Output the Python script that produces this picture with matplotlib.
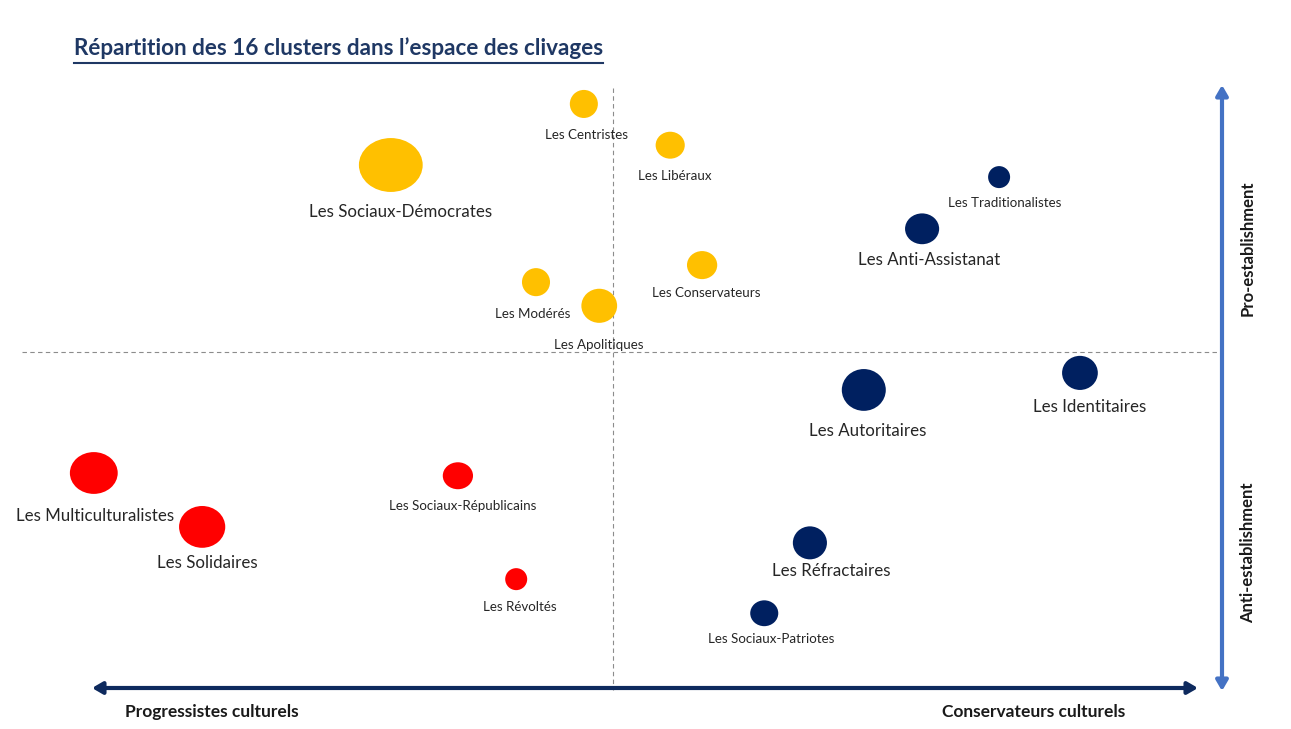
import matplotlib.pyplot as plt
from matplotlib.patches import Ellipse

# clusters: position in the cleavage space (x: culturel, y: establishment)
clusters = [
    "Les Centristes", "Les Libéraux", "Les Sociaux-Démocrates", "Les Traditionalistes",
    "Les Anti-Assistanat", "Les Conservateurs", "Les Modérés", "Les Apolitiques",
    "Les Identitaires", "Les Autoritaires", "Les Multiculturalistes", "Les Solidaires",
    "Les Sociaux-Républicains", "Les Révoltés", "Les Réfractaires", "Les Sociaux-Patriotes",
]
x_culturel = [-0.53, 1.04, -4.04, 7.02, 5.62, 1.62, -1.40, -0.25,
              8.49, 4.56, -9.44, -7.47, -2.82, -1.76, 3.58, 2.75]
y_establishment = [4.51, 3.76, 3.40, 3.18, 2.24, 1.58, 1.27, 0.84,
                   -0.38, -0.69, -2.20, -3.18, -2.25, -4.13, -3.47, -4.75]
# bubble width / height (data units)
largeur = [0.51, 0.53, 1.16, 0.40, 0.62, 0.55, 0.51, 0.65,
           0.65, 0.80, 0.87, 0.84, 0.55, 0.40, 0.62, 0.51]
hauteur = [0.51, 0.49, 0.98, 0.40, 0.56, 0.51, 0.51, 0.62,
           0.62, 0.76, 0.76, 0.76, 0.49, 0.40, 0.60, 0.47]
famille = ["centre", "centre", "centre", "droite", "droite", "centre", "centre", "centre",
           "droite", "droite", "gauche", "gauche", "gauche", "gauche", "droite", "droite"]

couleurs = {"centre": "#FFC000", "droite": "#002060", "gauche": "#FF0000"}
grands = {"Les Sociaux-Démocrates", "Les Anti-Assistanat", "Les Identitaires", "Les Autoritaires",
          "Les Multiculturalistes", "Les Solidaires", "Les Réfractaires"}
# label offsets in pixels (dx, dy downwards)
decalages = [(3, 31), (5, 31), (10, 47), (6, 26), (7, 31), (4, 28), (-3, 32), (0, 39),
             (10, 34), (4, 41), (1, 43), (5, 36), (5, 30), (4, 28), (21, 28), (7, 26)]

W, H = 1291, 729
plt.rcParams["font.family"] = ["Lato", "DejaVu Sans"]
fig = plt.figure(figsize=(W / 100, H / 100), dpi=100)
ax = fig.add_axes([0, 0, 1, 1])
scale = 55.0
x0, y0 = 613, 352
ax.set_xlim(-x0 / scale, (W - x0) / scale)
ax.set_ylim((y0 - H) / scale, y0 / scale)
ax.set_aspect("auto")
ax.axis("off")


def fx(px):
    return px / W


def fy(py):
    return 1 - py / H


# quadrant dashed lines
ax.plot([fx(613), fx(613)], [fy(88), fy(690)], transform=fig.transFigure,
        color="#8C8C8C", lw=0.8, ls=(0, (4, 3)))
ax.plot([fx(22), fx(1222)], [fy(352), fy(352)], transform=fig.transFigure,
        color="#8C8C8C", lw=0.8, ls=(0, (4, 3)))

for i, name in enumerate(clusters):
    ax.add_patch(Ellipse((x_culturel[i], y_establishment[i]), largeur[i], hauteur[i],
                         facecolor=couleurs[famille[i]], edgecolor="none", zorder=3))
    dx, dy = decalages[i]
    ax.annotate(name, (x_culturel[i], y_establishment[i]), xytext=(dx * 0.72, -dy * 0.72),
                textcoords="offset points", ha="center", va="center",
                fontsize=12.2 if name in grands else 9.6, color="#262626", zorder=4)

# axes arrows
ax.annotate("", xy=(fx(92), fy(688)), xytext=(fx(1198), fy(688)), xycoords="figure fraction",
            textcoords="figure fraction",
            arrowprops=dict(arrowstyle="<|-|>,head_length=0.6,head_width=0.35",
                            color="#0E2A5E", lw=3, shrinkA=0, shrinkB=0))
ax.annotate("", xy=(fx(1222), fy(85)), xytext=(fx(1222), fy(691)), xycoords="figure fraction",
            textcoords="figure fraction",
            arrowprops=dict(arrowstyle="<|-|>,head_length=0.6,head_width=0.35",
                            color="#4472C4", lw=3, shrinkA=0, shrinkB=0))

fig.text(fx(125), fy(712), "Progressistes culturels", fontsize=12.5, fontweight="bold",
         ha="left", va="center", color="#1A1A1A")
fig.text(fx(1125), fy(712), "Conservateurs culturels", fontsize=12.5, fontweight="bold",
         ha="right", va="center", color="#1A1A1A")
fig.text(fx(1248), fy(248), "Pro-establishment", fontsize=12, fontweight="bold",
         rotation=90, ha="center", va="center", color="#1A1A1A")
fig.text(fx(1248), fy(553), "Anti-establishment", fontsize=12, fontweight="bold",
         rotation=90, ha="center", va="center", color="#1A1A1A")

titre = fig.text(fx(74), fy(48), "Répartition des 16 clusters dans l’espace des clivages",
                 fontsize=16.2, fontweight="bold", ha="left", va="center", color="#1F3864")
fig.canvas.draw()
bb = titre.get_window_extent()
fig.add_artist(plt.Line2D([bb.x0 / W, bb.x1 / W], [fy(63), fy(63)],
                          transform=fig.transFigure, color="#1F3864", lw=1.5))

fig.savefig("out.png", dpi=100)
